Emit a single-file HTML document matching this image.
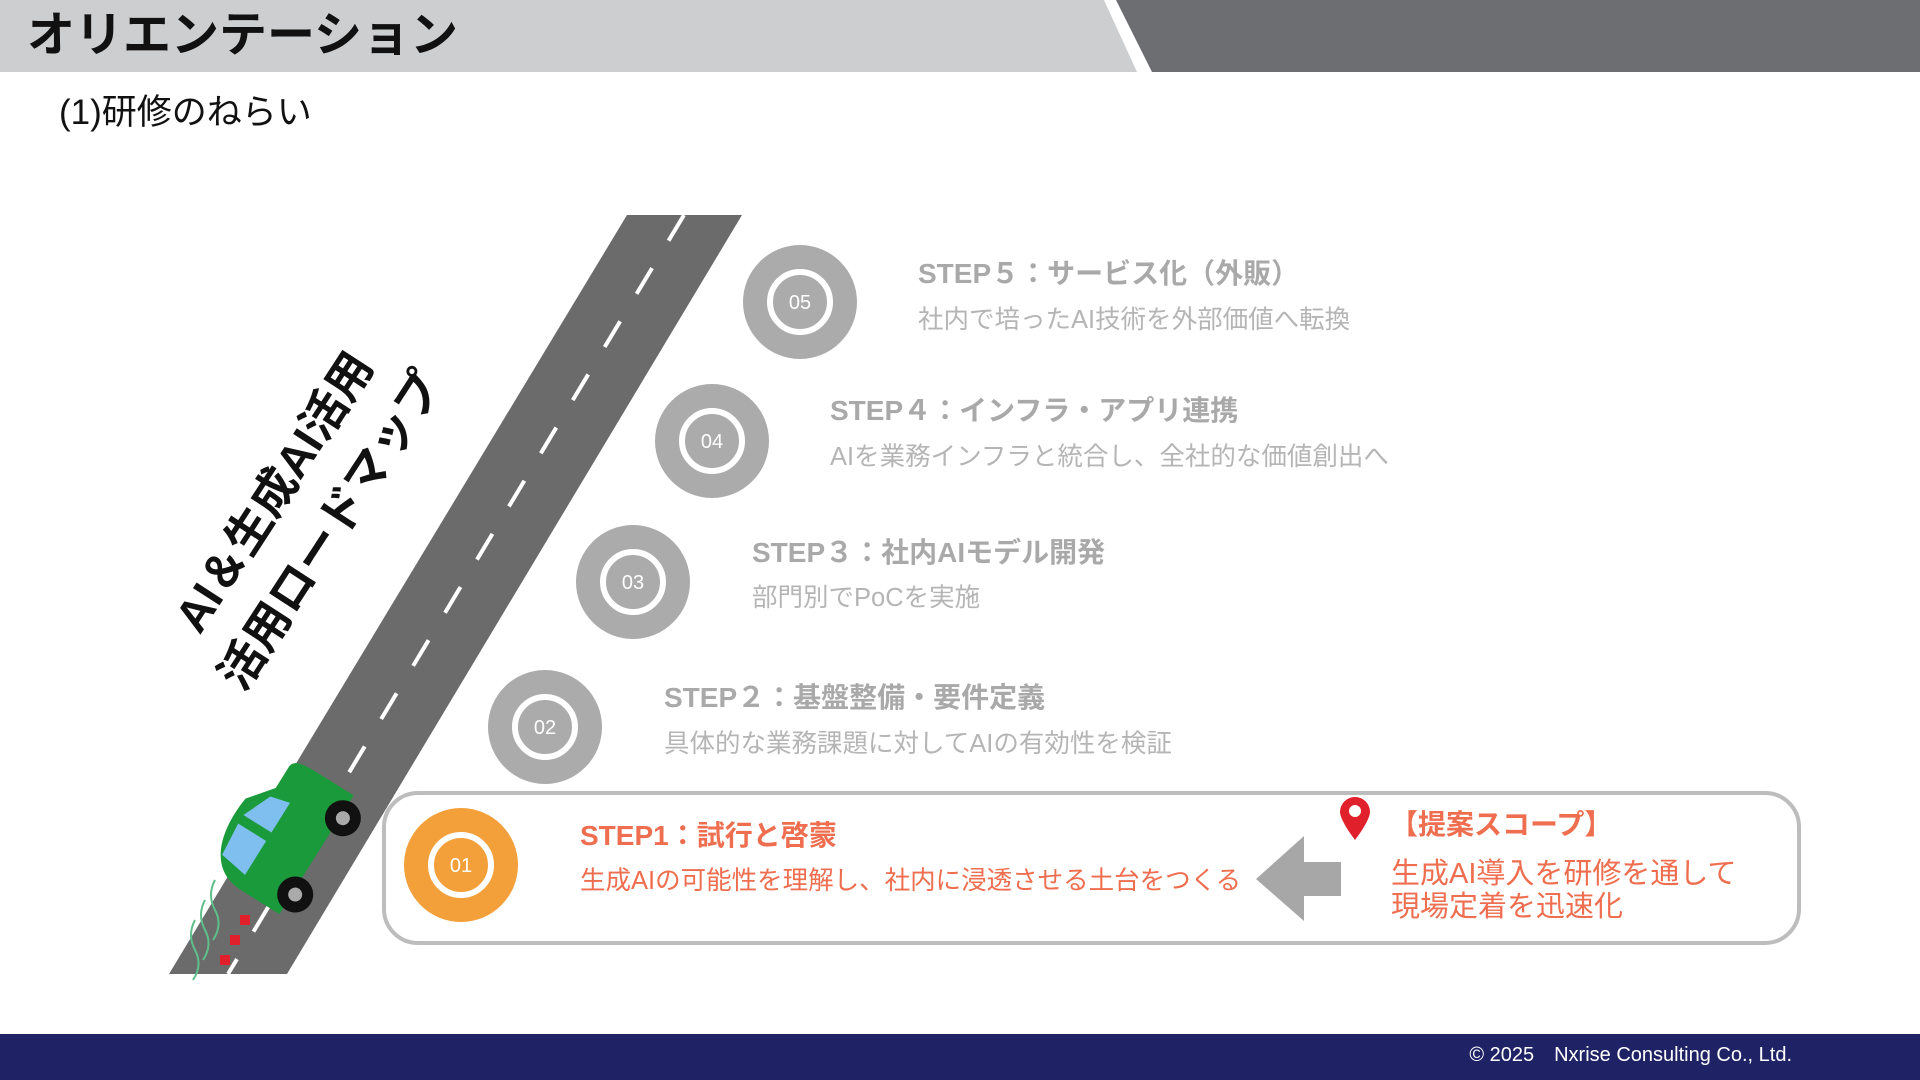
<!DOCTYPE html>
<html><head><meta charset="utf-8"><style>
*{margin:0;padding:0;box-sizing:border-box}
body{width:1920px;height:1080px;overflow:hidden;background:#fff;position:relative;font-family:"Liberation Sans","Noto Sans CJK JP",sans-serif}
.a{position:absolute;white-space:nowrap}
.t{font-weight:bold;font-size:28px;color:#a9a9a9;line-height:1}
.s{font-size:25.5px;color:#b5b5b5;line-height:1}
</style></head><body>
<svg class="a" style="left:0;top:0" width="1920" height="1080">
<polygon points="0,0 1104,0 1137,72 0,72" fill="#cdcecf"/>
<polygon points="1116,0 1920,0 1920,72 1152,72" fill="#6d6e71"/>
<rect x="0" y="1034" width="1920" height="46" fill="#1f2366"/>
<polygon points="627,215 742,215 287,974 169,974" fill="#6b6b6b"/>
<line x1="684" y1="215" x2="228" y2="974" stroke="#fff" stroke-width="4" stroke-dasharray="30,32"/>
<rect x="384" y="793" width="1415" height="150" rx="34" fill="#fff" stroke="#bdbdbd" stroke-width="4"/>
<g font-family="Liberation Sans, sans-serif" font-size="20" fill="#fff" text-anchor="middle">
<circle cx="800" cy="302" r="57" fill="#ababab"/><circle cx="800" cy="302" r="30" fill="none" stroke="#fff" stroke-width="6"/><text x="800" y="309">05</text>
<circle cx="712" cy="441" r="57" fill="#ababab"/><circle cx="712" cy="441" r="30" fill="none" stroke="#fff" stroke-width="6"/><text x="712" y="448">04</text>
<circle cx="633" cy="582" r="57" fill="#ababab"/><circle cx="633" cy="582" r="30" fill="none" stroke="#fff" stroke-width="6"/><text x="633" y="589">03</text>
<circle cx="545" cy="727" r="57" fill="#ababab"/><circle cx="545" cy="727" r="30" fill="none" stroke="#fff" stroke-width="6"/><text x="545" y="734">02</text>
<circle cx="461" cy="865" r="57" fill="#f4a03a"/><circle cx="461" cy="865" r="30" fill="none" stroke="#fff" stroke-width="6"/><text x="461" y="872">01</text>
</g>
<polygon points="1256,879 1304,836 1304,862 1341,862 1341,896 1304,896 1304,921" fill="#a7a7a7"/>
<path d="M1355,840 C1340,820 1340,813 1340,812 A15,15 0 1 1 1370,812 C1370,813 1370,820 1355,840Z" fill="#e0202a"/>
<circle cx="1355" cy="811" r="6" fill="#fff"/>
<g transform="translate(290,850) rotate(-58)">
<path d="M-60,-20 C-60,-60 -20,-70 20,-65 L45,-45 L70,-45 C80,-45 80,-30 80,-20 L80,25 L-60,25Z" fill="#1a9a3a"/>
<path d="M-45,-25 L-40,-55 L-5,-58 L-5,-25Z" fill="#7fbfef"/>
<path d="M5,-25 L5,-58 L35,-45 L40,-25Z" fill="#7fbfef"/>
<circle cx="-35" cy="28" r="18" fill="#111"/><circle cx="-35" cy="28" r="7" fill="#aaa"/>
<circle cx="55" cy="28" r="18" fill="#111"/><circle cx="55" cy="28" r="7" fill="#aaa"/>
</g>
<g fill="#e0202a"><rect x="240" y="915" width="10" height="10"/><rect x="230" y="935" width="10" height="10"/><rect x="220" y="955" width="10" height="10"/></g>
<g stroke="#5fbf8a" stroke-width="2" fill="none"><path d="M215,880 q-8,15 0,30 q8,15 -2,30"/><path d="M205,900 q-8,15 0,30 q8,15 -2,30"/><path d="M195,920 q-8,15 0,30 q8,15 -2,30"/></g>
</svg>
<div class="a" style="left:27px;top:10px;font-size:48px;font-weight:bold;color:#111;line-height:1.1">オリエンテーション</div>
<div class="a" style="left:59px;top:94px;font-size:35px;color:#111;line-height:1.1">(1)研修のねらい</div>
<div class="a" style="left:274px;top:492px;transform:translate(-50%,-50%) rotate(-57deg);font-size:46px;font-weight:bold;color:#111;line-height:1">AI＆生成AI活用</div>
<div class="a" style="left:330px;top:530px;transform:translate(-50%,-50%) rotate(-57deg);font-size:46px;font-weight:bold;color:#111;line-height:1">活用ロードマップ</div>

<div class="a t" style="left:918px;top:260px">STEP５：サービス化（外販）</div>
<div class="a s" style="left:918px;top:308px">社内で培ったAI技術を外部価値へ転換</div>
<div class="a t" style="left:830px;top:397px">STEP４：インフラ・アプリ連携</div>
<div class="a s" style="left:830px;top:445px">AIを業務インフラと統合し、全社的な価値創出へ</div>
<div class="a t" style="left:752px;top:539px">STEP３：社内AIモデル開発</div>
<div class="a s" style="left:752px;top:586px">部門別でPoCを実施</div>
<div class="a t" style="left:664px;top:684px">STEP２：基盤整備・要件定義</div>
<div class="a s" style="left:664px;top:732px">具体的な業務課題に対してAIの有効性を検証</div>
<div class="a t" style="left:580px;top:822px;color:#ef6e4f">STEP1：試行と啓蒙</div>
<div class="a s" style="left:580px;top:869px;color:#ef6e4f">生成AIの可能性を理解し、社内に浸透させる土台をつくる</div>
<div class="a t" style="left:1390px;top:811px;color:#ef6e4f">【提案スコープ】</div>
<div class="a" style="left:1391px;top:858px;font-size:29px;color:#ef6e4f;line-height:1.15">生成AI導入を研修を通して<br>現場定着を迅速化</div>
<div class="a" style="right:128px;top:1045px;font-size:20px;color:#fff;line-height:1">© 2025　Nxrise Consulting Co., Ltd.</div>
</body></html>
